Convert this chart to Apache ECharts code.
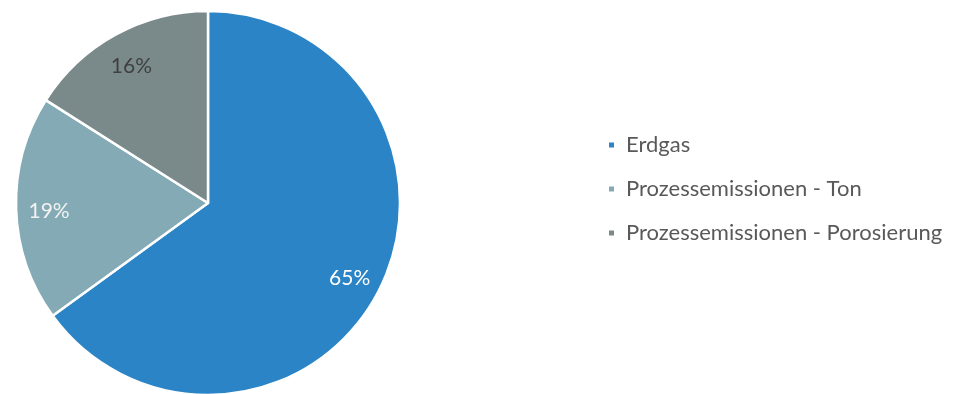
<!DOCTYPE html>
<html>
<head>
<meta charset="utf-8">
<script src="https://cdn.jsdelivr.net/npm/echarts@6/dist/echarts.min.js"></script>
<style>
html,body{margin:0;padding:0;background:#fff;}
#chart{width:953px;height:394px;}
</style>
</head>
<body>
<div id="chart"></div>
<script>
// Anteile der Emissionsquellen (%)
const categories = ['Erdgas', 'Prozessemissionen - Ton', 'Prozessemissionen - Porosierung'];
const shares = [65, 19, 16];
const colors = ['#2A84C6', '#84ABB5', '#7A8A8B'];
const labelColors = ['#FFFFFF', '#F2F2F2', '#404040'];

const FONT = 'Lato';
const chart = echarts.init(document.getElementById('chart'));

const sliceData = categories.map((name, i) => ({
  name: name,
  value: shares[i],
  itemStyle: { color: colors[i] }
}));

const labelData = categories.map((name, i) => ({
  name: name,
  value: shares[i],
  label: { color: labelColors[i] }
}));

chart.setOption({
  animation: false,
  legend: {
    orient: 'vertical',
    left: 602,
    top: 129,
    itemWidth: 7,
    itemHeight: 7,
    itemGap: 22,
    icon: 'rect',
    data: categories,
    textStyle: { fontFamily: FONT, fontSize: 22, lineHeight: 22, color: '#595959', padding: [0, 0, 0, 6] }
  },
  series: [
    {
      type: 'pie',
      center: [208, 203],
      radius: [0, 192],
      startAngle: 90,
      clockwise: true,
      silent: true,
      label: { show: false },
      labelLine: { show: false },
      itemStyle: { borderColor: '#FFFFFF', borderWidth: 2.5 },
      data: sliceData
    },
    {
      // unsichtbarer Ring, der die Prozentwerte in ~82 % des Radius platziert
      type: 'pie',
      center: [208, 206],
      radius: [120, 192],
      startAngle: 90,
      clockwise: true,
      silent: true,
      itemStyle: { color: 'rgba(0,0,0,0)' },
      label: {
        show: true,
        position: 'inside',
        formatter: p => p.value + '%',
        fontFamily: FONT,
        fontSize: 21
      },
      labelLine: { show: false },
      data: labelData
    }
  ]
});
</script>
</body>
</html>
